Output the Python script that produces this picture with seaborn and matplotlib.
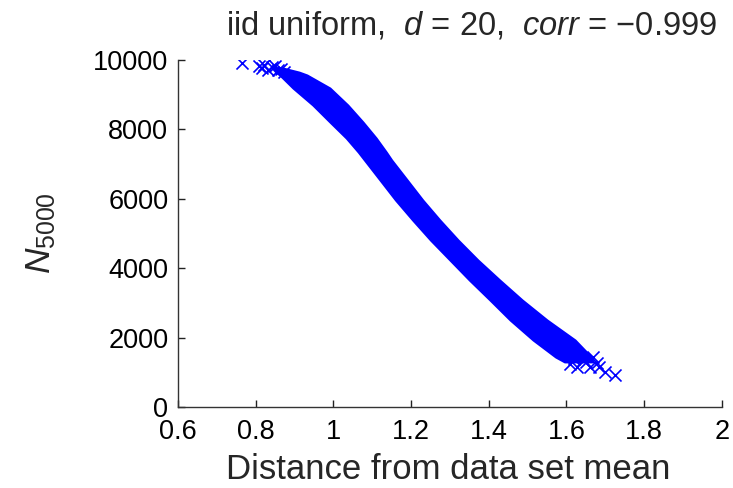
import matplotlib
matplotlib.use("Agg")
import matplotlib.pyplot as plt
import seaborn as sns
import pandas as pd

# Band envelope (N_5000 level, left edge, right edge)
band_y     = [9780, 9650, 9568, 9193, 8704, 8214, 7753, 7349, 7118, 6542, 5965,
              5389, 4812, 4236, 3660, 3084, 2507, 1931, 1441, 1300]
band_left  = [0.842, 0.852, 0.862, 0.896, 0.947, 0.991, 1.033, 1.064, 1.080, 1.120,
              1.160, 1.204, 1.250, 1.300, 1.350, 1.403, 1.455, 1.514, 1.572, 1.595]
band_right = [0.866, 0.912, 0.932, 0.991, 1.037, 1.076, 1.110, 1.136, 1.150, 1.190,
              1.230, 1.274, 1.321, 1.372, 1.428, 1.486, 1.550, 1.622, 1.664, 1.668]

# Individual sparse points near both ends of the cloud
pts_x = [0.765, 0.808, 0.821, 0.832, 0.842, 0.857, 0.873, 0.816, 0.850, 0.865,
         1.627, 1.642, 1.660, 1.668, 1.678, 1.699, 1.725, 1.610, 1.650, 1.620, 1.685]
pts_y = [9920, 9828, 9856, 9712, 9799, 9712, 9655, 9770, 9840, 9740,
         1153, 1355, 1153, 1441, 1268, 1009, 930, 1250, 1300, 1380, 1150]

x_ticks = [0.6, 0.8, 1.0, 1.2, 1.4, 1.6, 1.8, 2.0]
x_tick_labels = ["0.6", "0.8", "1", "1.2", "1.4", "1.6", "1.8", "2"]
y_ticks = [0, 2000, 4000, 6000, 8000, 10000]

sns.set_style("ticks")
plt.rcParams["font.family"] = ["Liberation Sans", "DejaVu Sans"]
plt.rcParams["mathtext.fontset"] = "custom"
plt.rcParams["mathtext.rm"] = "Liberation Sans"
plt.rcParams["mathtext.it"] = "Liberation Sans:italic"

blue = "#0000ff"
fig = plt.figure(figsize=(7.33, 4.88), dpi=100)
ax = fig.add_axes([0.2428, 0.166, 0.742, 0.711])

ax.fill_betweenx(band_y, band_left, band_right, color=blue, linewidth=1.5, edgecolor=blue)
df = pd.DataFrame({"x": pts_x, "y": pts_y})
sns.scatterplot(data=df, x="x", y="y", marker="x", s=75, color=blue,
                linewidth=1.2, ax=ax, legend=False)

ax.set_xlim(0.6, 2)
ax.set_ylim(0, 10000)
ax.set_xticks(x_ticks)
ax.set_xticklabels(x_tick_labels)
ax.set_yticks(y_ticks)
ax.tick_params(direction="in", length=5, width=1, labelsize=19.5, colors="#222222",
               labelcolor="black")
ax.tick_params(axis="x", pad=9)
ax.tick_params(axis="y", pad=7)
for side in ["top", "right"]:
    ax.spines[side].set_visible(False)
for side in ["left", "bottom"]:
    ax.spines[side].set_color("#333333")
    ax.spines[side].set_linewidth(1)

ax.set_xlabel("")
ax.set_ylabel("")
fig.text(0.611, 0.037, "Distance from data set mean", fontsize=25, ha="center", va="center")
fig.text(0.056, 0.523, r"$N_{5000}$", fontsize=25.5, rotation=90, ha="center", va="center")
fig.text(0.643, 0.947, r"iid uniform,  $d$ = 20,  $corr$ = −0.999", fontsize=23.5,
         ha="center", va="center")

fig.savefig("out.png", dpi=100)
